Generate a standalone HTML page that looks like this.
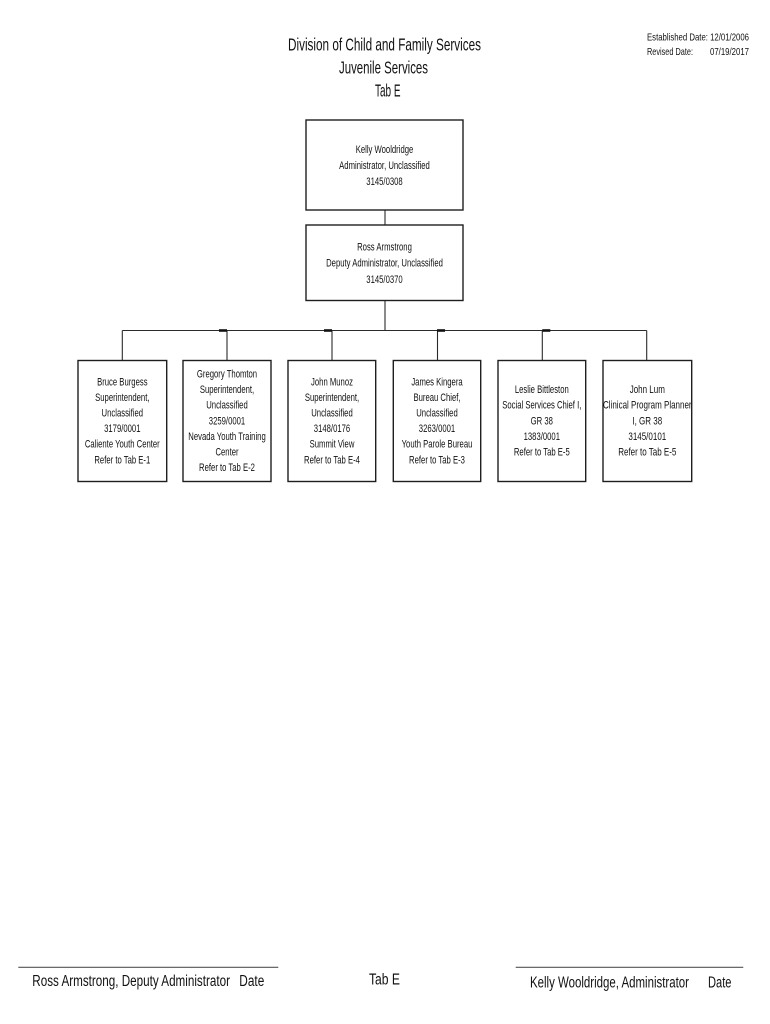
<!DOCTYPE html>
<html>
<head>
<meta charset="utf-8">
<style>
  html,body{margin:0;padding:0;background:#fff;}
  svg{display:block;}
  text{font-family:"Liberation Sans", Arial, sans-serif; fill:#111;}
</style>
</head>
<body>
<svg width="770" height="1024" viewBox="0 0 770 1024" xmlns="http://www.w3.org/2000/svg">
  <rect x="0" y="0" width="770" height="1024" fill="#fff"/>

  <!-- Title -->
  <text x="288" y="50.5" font-size="17.5" textLength="193" lengthAdjust="spacingAndGlyphs">Division of Child and Family Services</text>
  <text x="339" y="73.5" font-size="17.5" textLength="89" lengthAdjust="spacingAndGlyphs">Juvenile Services</text>
  <text x="375" y="96.5" font-size="17.5" textLength="25.5" lengthAdjust="spacingAndGlyphs">Tab E</text>

  <!-- Dates -->
  <text x="647" y="40.5" font-size="10.5" textLength="102" lengthAdjust="spacingAndGlyphs">Established Date: 12/01/2006</text>
  <text x="647" y="55" font-size="10.5" textLength="46" lengthAdjust="spacingAndGlyphs">Revised Date:</text>
  <text x="710" y="55" font-size="10.5" textLength="39" lengthAdjust="spacingAndGlyphs">07/19/2017</text>

  <!-- Connectors -->
  <g stroke="#2a2a2a" stroke-width="1.1" fill="none">
    <line x1="385" y1="210" x2="385" y2="225"/>
    <line x1="385" y1="300.5" x2="385" y2="330.5"/>
    <line x1="122.3" y1="330.5" x2="646.7" y2="330.5"/>
    <line x1="122.3" y1="330.5" x2="122.3" y2="360.5"/>
    <line x1="227" y1="330.5" x2="227" y2="360.5"/>
    <line x1="332" y1="330.5" x2="332" y2="360.5"/>
    <line x1="437.5" y1="330.5" x2="437.5" y2="360.5"/>
    <line x1="542.3" y1="330.5" x2="542.3" y2="360.5"/>
    <line x1="646.7" y1="330.5" x2="646.7" y2="360.5"/>
  </g>
  <g fill="#111">
    <rect x="219" y="329.2" width="8" height="2.6"/>
    <rect x="324" y="329.2" width="8" height="2.6"/>
    <rect x="437" y="329.2" width="8" height="2.6"/>
    <rect x="542.3" y="329.2" width="8" height="2.6"/>
  </g>

  <!-- Boxes -->
  <g stroke="#1e1e1e" stroke-width="1.4" fill="#fff">
    <rect x="306" y="120" width="157" height="90"/>
    <rect x="306" y="225" width="157" height="75.5"/>
    <rect x="78" y="360.5" width="88.7" height="121"/>
    <rect x="183" y="360.5" width="88" height="121"/>
    <rect x="288" y="360.5" width="87.7" height="121"/>
    <rect x="393.3" y="360.5" width="87.4" height="121"/>
    <rect x="498" y="360.5" width="87.7" height="121"/>
    <rect x="603" y="360.5" width="88.7" height="121"/>
  </g>

  <!-- Top box text -->
  <g font-size="10.7" text-anchor="middle">
    <g transform="translate(384.5,0) scale(0.72,1)">
      <text x="0" y="152.8">Kelly Wooldridge</text>
      <text x="0" y="168.8">Administrator, Unclassified</text>
      <text x="0" y="184.8">3145/0308</text>
    </g>
    <g transform="translate(384.5,0) scale(0.72,1)">
      <text x="0" y="250.5">Ross Armstrong</text>
      <text x="0" y="266.5">Deputy Administrator, Unclassified</text>
      <text x="0" y="283">3145/0370</text>
    </g>

    <!-- Bottom boxes -->
    <g transform="translate(122.3,0) scale(0.72,1)">
      <text x="0" y="385.3">Bruce Burgess</text>
      <text x="0" y="400.9">Superintendent,</text>
      <text x="0" y="416.5">Unclassified</text>
      <text x="0" y="432.1">3179/0001</text>
      <text x="0" y="447.7">Caliente Youth Center</text>
      <text x="0" y="463.3">Refer to Tab E-1</text>
    </g>
    <g transform="translate(227,0) scale(0.72,1)">
      <text x="0" y="377.5">Gregory Thomton</text>
      <text x="0" y="393.1">Superintendent,</text>
      <text x="0" y="408.7">Unclassified</text>
      <text x="0" y="424.3">3259/0001</text>
      <text x="0" y="439.9">Nevada Youth Training</text>
      <text x="0" y="455.5">Center</text>
      <text x="0" y="471.1">Refer to Tab E-2</text>
    </g>
    <g transform="translate(332,0) scale(0.72,1)">
      <text x="0" y="385.3">John Munoz</text>
      <text x="0" y="400.9">Superintendent,</text>
      <text x="0" y="416.5">Unclassified</text>
      <text x="0" y="432.1">3148/0176</text>
      <text x="0" y="447.7">Summit View</text>
      <text x="0" y="463.3">Refer to Tab E-4</text>
    </g>
    <g transform="translate(437,0) scale(0.72,1)">
      <text x="0" y="385.3">James Kingera</text>
      <text x="0" y="400.9">Bureau Chief,</text>
      <text x="0" y="416.5">Unclassified</text>
      <text x="0" y="432.1">3263/0001</text>
      <text x="0" y="447.7">Youth Parole Bureau</text>
      <text x="0" y="463.3">Refer to Tab E-3</text>
    </g>
    <g transform="translate(541.8,0) scale(0.72,1)">
      <text x="0" y="393.1">Leslie Bittleston</text>
      <text x="0" y="408.7">Social Services Chief I,</text>
      <text x="0" y="424.3">GR 38</text>
      <text x="0" y="439.9">1383/0001</text>
      <text x="0" y="455.5">Refer to Tab E-5</text>
    </g>
    <g transform="translate(647.3,0) scale(0.75,1)">
      <text x="0" y="393.1">John Lum</text>
      <text x="0" y="408.7">Clinical Program Planner</text>
      <text x="0" y="424.3">I, GR 38</text>
      <text x="0" y="439.9">3145/0101</text>
      <text x="0" y="455.5">Refer to Tab E-5</text>
    </g>
  </g>

  <!-- Signature lines -->
  <g stroke="#555" stroke-width="1.2">
    <line x1="18.3" y1="967.3" x2="278.3" y2="967.3"/>
    <line x1="515.7" y1="967.3" x2="743.3" y2="967.3"/>
  </g>
  <text x="32.3" y="986" font-size="15.5" textLength="197.7" lengthAdjust="spacingAndGlyphs">Ross Armstrong, Deputy Administrator</text>
  <text x="239.3" y="986" font-size="15.5" textLength="25" lengthAdjust="spacingAndGlyphs">Date</text>
  <text x="369" y="984.5" font-size="15.5" textLength="31" lengthAdjust="spacingAndGlyphs">Tab E</text>
  <text x="530" y="987.5" font-size="15.5" textLength="159" lengthAdjust="spacingAndGlyphs">Kelly Wooldridge, Administrator</text>
  <text x="708" y="987.5" font-size="15.5" textLength="23.5" lengthAdjust="spacingAndGlyphs">Date</text>
</svg>
</body>
</html>
